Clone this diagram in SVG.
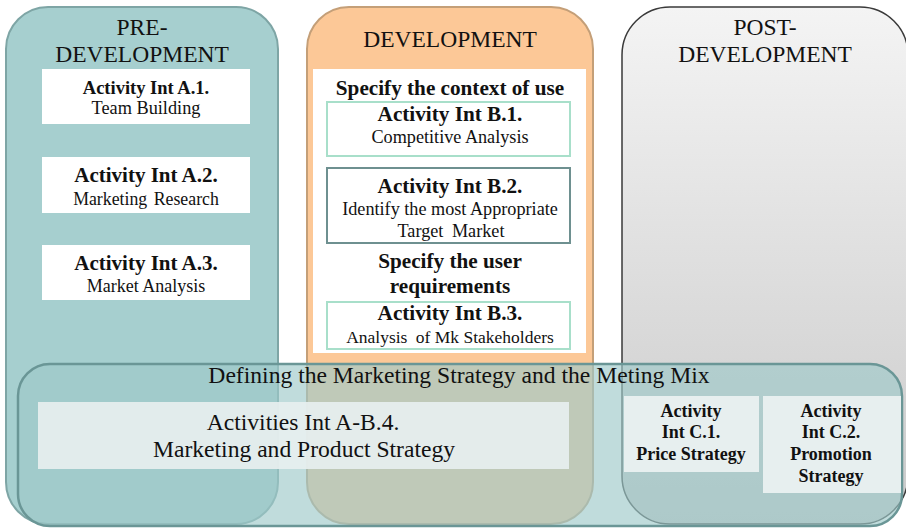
<svg xmlns="http://www.w3.org/2000/svg" width="906" height="528" viewBox="0 0 906 528">
  <defs>
    <linearGradient id="postFill" x1="0" y1="0" x2="0" y2="1">
      <stop offset="0" stop-color="#f4f4f4"/>
      <stop offset="1" stop-color="#c9c9c9"/>
    </linearGradient>
  </defs>
  <style>
    text { font-family: "Liberation Serif", "Times New Roman", serif; fill: #111; text-anchor: middle; }
    .phase { font-size: 23.5px; }
    .b { font-weight: bold; }
    .card { fill: #ffffff; }
    .mint { fill: #ffffff; stroke: #a8dfca; stroke-width: 2; }
    .dark { fill: #ffffff; stroke: #6e9090; stroke-width: 2; }
    .pale { fill: #e7efef; }
  </style>

  <!-- Phase columns -->
  <g id="pre-development">
    <rect x="6" y="7" width="272" height="517" rx="42" fill="#a6cfcf" stroke="#7ea5a5" stroke-width="2"/>
    <text class="phase" x="142" y="35">PRE-</text>
    <text class="phase" x="142" y="62">DEVELOPMENT</text>
  </g>

  <g id="development">
    <rect x="307" y="7" width="286" height="517" rx="42" fill="#fcc897" stroke="#c49f78" stroke-width="2"/>
    <text class="phase" x="450" y="47">DEVELOPMENT</text>
    <rect x="313" y="69" width="273" height="284" fill="#ffffff"/>
  </g>

  <g id="post-development">
    <rect x="622" y="7" width="286" height="517" rx="48" fill="url(#postFill)" stroke="#3a3a3a" stroke-width="1.5"/>
    <text class="phase" x="765" y="35">POST-</text>
    <text class="phase" x="765" y="62">DEVELOPMENT</text>
  </g>

  <!-- Pre-development activities -->
  <g id="activity-a1">
    <rect class="card" x="42" y="69" width="208" height="55"/>
    <text class="b" x="146" y="94" font-size="18.5">Activity Int A.1.</text>
    <text x="146" y="114" font-size="18.3">Team Building</text>
  </g>
  <g id="activity-a2">
    <rect class="card" x="42" y="157" width="208" height="56"/>
    <text class="b" x="146" y="182" font-size="21">Activity Int A.2.</text>
    <text x="146" y="205" font-size="17.8" word-spacing="2">Marketing Research</text>
  </g>
  <g id="activity-a3">
    <rect class="card" x="42" y="245" width="208" height="55"/>
    <text class="b" x="146" y="270" font-size="21">Activity Int A.3.</text>
    <text x="146" y="292" font-size="18">Market Analysis</text>
  </g>

  <!-- Development activities -->
  <g id="context-of-use">
    <text class="b" x="450" y="95" font-size="21.2">Specify the context of use</text>
  </g>
  <g id="activity-b1">
    <rect class="mint" x="327" y="102" width="243" height="54"/>
    <text class="b" x="450" y="121" font-size="21.2">Activity Int B.1.</text>
    <text x="450" y="143" font-size="18.2">Competitive Analysis</text>
  </g>
  <g id="activity-b2">
    <rect class="dark" x="327" y="168" width="243" height="75"/>
    <text class="b" x="450" y="193" font-size="21.2">Activity Int B.2.</text>
    <text x="450" y="215" font-size="18.2">Identify the most Appropriate</text>
    <text x="451" y="237" font-size="18.2" word-spacing="4">Target Market</text>
  </g>
  <g id="user-requirements">
    <text class="b" x="450" y="268" font-size="21.2">Specify the user</text>
    <text class="b" x="450" y="293" font-size="21.2">requirements</text>
  </g>
  <g id="activity-b3">
    <rect class="mint" x="327" y="302" width="243" height="47"/>
    <text class="b" x="450" y="320" font-size="21.2">Activity Int B.3.</text>
    <text x="450" y="343" font-size="17.5">Analysis <tspan dx="4">of Mk Stakeholders</tspan></text>
  </g>

  <!-- Marketing strategy band spanning all phases -->
  <g id="marketing-strategy">
    <rect x="18" y="364" width="884" height="162" rx="32" fill="#9ec9c9" fill-opacity="0.65" stroke="#6a9696" stroke-width="2.5"/>
    <text x="459" y="383" font-size="23.6">Defining the Marketing Strategy and the Meting Mix</text>
  </g>
  <g id="activities-ab4">
    <rect class="pale" x="38" y="402" width="531" height="67" fill-opacity="0.92"/>
    <text x="303" y="430" font-size="23.6">Activities Int A-B.4.</text>
    <text x="304" y="457" font-size="23.6">Marketing and Product Strategy</text>
  </g>
  <g id="activity-c1">
    <rect class="pale" x="624" y="396" width="135" height="76"/>
    <text class="b" x="691" y="417" font-size="18">Activity</text>
    <text class="b" x="691" y="438" font-size="18">Int C.1.</text>
    <text class="b" x="691" y="460" font-size="18">Price Strategy</text>
  </g>
  <g id="activity-c2">
    <rect class="pale" x="763" y="396" width="138" height="97"/>
    <text class="b" x="831" y="417" font-size="18">Activity</text>
    <text class="b" x="831" y="438" font-size="18">Int C.2.</text>
    <text class="b" x="831" y="460" font-size="18">Promotion</text>
    <text class="b" x="831" y="482" font-size="18">Strategy</text>
  </g>
</svg>
